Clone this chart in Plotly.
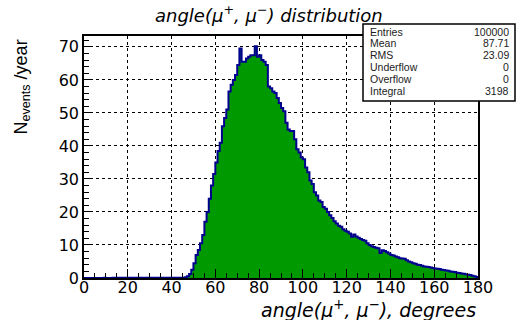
import plotly.graph_objects as go

# bin edges 0..180 (1 degree bins), contents per bin
bin_low = list(range(0, 180))
counts = (
    [0, 0, 0, 0, 0, 0, 0, 0, 0, 0.06, 0, 0, 0]
    + [0.06] * 33
    + [0.2, 0.5,
       1.2, 2.5, 4.5, 7, 8.5, 10.5, 13, 17, 20, 24, 28, 31.5,
       35, 38.5, 41, 46, 48.5, 51, 56.5, 58.5, 60, 61.5,
       64.5, 69.5, 65.5, 65.5, 66.5, 67, 67.5, 67.5, 70.2, 67,
       67.5, 66, 65.5, 64.5, 58, 57.5, 56.5, 56, 54.5, 53,
       51.5, 50.5, 47, 45, 44.5, 44.5, 42, 39, 38, 36.5,
       36, 33.5, 32, 29.5, 28.5, 26, 25, 23.5, 23, 21.5,
       21, 20, 19, 18.2, 17.2, 16.5, 15.8, 15.5, 14.8, 14.3,
       14, 13.5, 12.5, 13.2, 12.6, 12.2, 11.8, 11.5, 11.3, 10.5,
       10, 9.6, 9.4, 9.2, 9, 7.6, 8.4, 8.2, 7.8, 7.4,
       7.0, 6.8, 6.5, 6.3, 6.0, 5.9, 5.8, 5.4, 5.0, 4.8,
       4.5, 4.3, 4.0, 3.9, 3.7, 3.5, 3.4, 3.3, 3.2, 3.0,
       2.9, 2.8, 2.7, 2.5, 2.4, 2.3, 2.2, 2.0, 1.9, 1.8,
       1.6, 1.5, 1.4, 1.3, 1.1, 1.0, 0.9, 0.7, 0.5, 0.3]
)
stat_labels = ["Entries", "Mean", "RMS", "Underflow", "Overflow", "Integral"]
stat_values = ["100000", "87.71", "23.09", "0", "0", "3198"]
x_ticks = list(range(0, 181, 20))
y_ticks = list(range(0, 71, 10))

xs = bin_low + [180]
ys = counts + [counts[-1]]

fig = go.Figure()
fig.add_trace(go.Scatter(
    x=xs, y=ys, mode="lines", line_shape="hv",
    line=dict(color="#00008f", width=2),
    fill="tozeroy", fillcolor="#009a00",
    hoverinfo="skip", showlegend=False,
))

L, R, T, B = 84, 478, 36, 278
W, H = 517, 320
PW, PH = R - L, B - T

def px(x):
    return (x - L) / PW

def py(y):
    return (B - y) / PH

TICKFONT = dict(size=16, family="DejaVu Sans, sans-serif")

fig.update_layout(
    width=W, height=H, autosize=False,
    margin=dict(l=L, r=W - R, t=T, b=H - B, pad=0),
    paper_bgcolor="white", plot_bgcolor="white",
    font=dict(family="Liberation Sans, Arial, sans-serif", color="black"),
    showlegend=False,
)
fig.update_xaxes(
    range=[0, 180], tickvals=x_ticks, ticktext=[str(v) for v in x_ticks],
    showline=True, linecolor="black", linewidth=1.5, mirror=True,
    ticks="inside", ticklen=9, tickcolor="black", tickwidth=1.3,
    minor=dict(dtick=5, tick0=0, ticks="inside", ticklen=5, tickcolor="black", showgrid=False),
    showgrid=True, gridcolor="black", griddash="dot", gridwidth=1,
    tickfont=TICKFONT, zeroline=False, ticklabelstandoff=-6,
)
fig.update_yaxes(
    range=[0, 73.3], tickvals=y_ticks, ticktext=[str(v) for v in y_ticks],
    showline=True, linecolor="black", linewidth=1.5, mirror=True,
    ticks="inside", ticklen=9, tickcolor="black", tickwidth=1.3,
    minor=dict(dtick=2, tick0=0, ticks="inside", ticklen=5, tickcolor="black", showgrid=False),
    showgrid=True, gridcolor="black", griddash="dot", gridwidth=1,
    tickfont=TICKFONT, zeroline=False,
)

ann = []
ann.append(dict(text="<i>angle(μ<sup>+</sup>, μ<sup>−</sup>) distribution</i>",
                x=px(269), y=py(14), xref="paper", yref="paper",
                showarrow=False, font=dict(size=18, family="DejaVu Sans, sans-serif"),
                xanchor="center", yanchor="middle"))
ann.append(dict(text="<i>angle(μ<sup>+</sup>, μ<sup>−</sup>), degrees</i>",
                x=px(478), y=py(309), xref="paper", yref="paper",
                showarrow=False, font=dict(size=19, family="DejaVu Sans, sans-serif"),
                xanchor="right", yanchor="middle"))
ann.append(dict(text="N<sub>events</sub> /year",
                x=px(22), y=py(38), xref="paper", yref="paper", textangle=-90,
                showarrow=False, font=dict(size=18), xanchor="center", yanchor="top"))

row_y = [31.7, 43.5, 55.3, 67.1, 78.9, 90.7]
for lab, val, ry in zip(stat_labels, stat_values, row_y):
    ann.append(dict(text=lab, x=px(368), y=py(ry), xref="paper", yref="paper",
                    showarrow=False, font=dict(size=10.5, color="#222"),
                    xanchor="left", yanchor="middle"))
    ann.append(dict(text=val, x=px(511), y=py(ry), xref="paper", yref="paper",
                    showarrow=False, font=dict(size=10.5, color="#222"),
                    xanchor="right", yanchor="middle"))
fig.update_layout(annotations=ann)

fig.add_shape(type="rect", xref="paper", yref="paper",
              x0=px(363), x1=px(515), y0=py(101), y1=py(24),
              line=dict(color="black", width=1.5), fillcolor="white", layer="above")

fig.write_html("out.html", config={"displayModeBar": False},
               post_script="document.body.style.margin='0px';")
